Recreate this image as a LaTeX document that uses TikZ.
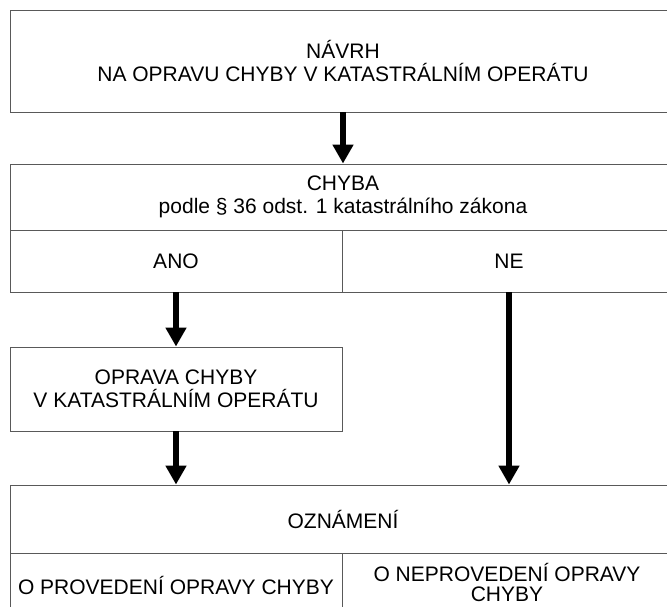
\documentclass[tikz,border=0pt]{standalone}
\usepackage{fontspec}
\setmainfont{Liberation Sans}
\usetikzlibrary{arrows.meta}
\begin{document}
\begin{tikzpicture}[x=1pt,y=-1pt,
  box/.style={draw=black!65,line width=0.9pt,rectangle,inner sep=0pt,align=center,
    font=\fontsize{21}{22.5}\selectfont},
  txt/.style={inner sep=0pt,anchor=base,font=\fontsize{21}{22.5}\selectfont},
  arr/.style={line width=6pt,-{Triangle[width=20pt,length=19pt]}}]
\useasboundingbox (0,0) rectangle (667,607);
\node[box,minimum width=666pt,minimum height=102pt] (navrh) at (343,61) {NÁVRH\\NA OPRAVU CHYBY V KATASTRÁLNÍM OPERÁTU};
\node[box,minimum width=666pt,minimum height=66pt] (chyba) at (343,197) {CHYBA\\podle § 36 odst. 1 katastrálního zákona};
\node[box,minimum width=332pt,minimum height=62pt] (ano) at (176,261) {ANO};
\node[box,minimum width=334pt,minimum height=62pt] (ne) at (509,261) {NE};
\node[box,minimum width=332pt,minimum height=84pt] (oprava) at (176,389) {OPRAVA CHYBY\\V KATASTRÁLNÍM OPERÁTU};
\node[box,minimum width=666pt,minimum height=68pt] (ozn) at (343,519) {OZNÁMENÍ};
\node[box,minimum width=332pt,minimum height=64pt] (prov) at (176,585) {O PROVEDENÍ OPRAVY CHYBY};
\node[box,minimum width=334pt,minimum height=64pt] (neprov) at (509,585) {};
\node[txt] (neprov1) at (507,581) {O NEPROVEDENÍ OPRAVY};
\node[txt] (neprov2) at (507,601) {CHYBY};
\draw[arr] (navrh.south) -- (chyba.north);
\draw[arr] (ano.south) -- (oprava.north);
\draw[arr] (oprava.south) -- (oprava.south |- ozn.north);
\draw[arr] (ne.south) -- (ne.south |- ozn.north);
\end{tikzpicture}
\end{document}
